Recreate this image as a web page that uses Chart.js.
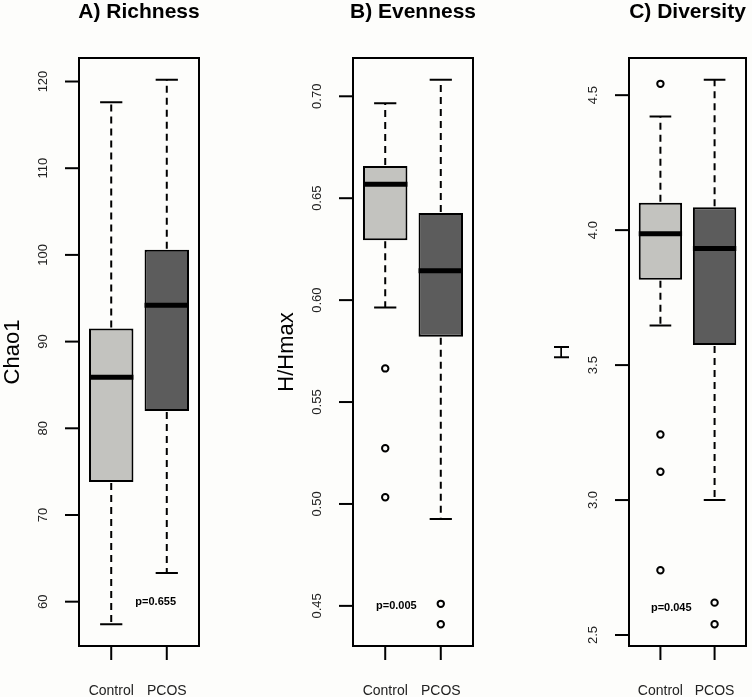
<!DOCTYPE html>
<html>
<head>
<meta charset="utf-8">
<script src="https://cdn.jsdelivr.net/npm/chart.js@4"></script>
<style>
    body { margin: 0; background: #fdfdfb; }
    #painel { position: relative; width: 752px; height: 697px; }
    canvas { position: absolute; top: 0; }
</style>
</head>
<body>
<div id="painel">
    <canvas id="graficoA" width="250" height="697" style="left:0px"></canvas>
    <canvas id="graficoB" width="250" height="697" style="left:250px"></canvas>
    <canvas id="graficoC" width="252" height="697" style="left:500px"></canvas>
</div>
<script>

// grupos (eixo x)
var grupos = ['Control', 'PCOS'];
var coresCaixa = ['#c3c3bf', '#5c5c5c'];

// A) Richness - Chao1
var riquezaMin = [57.4, 63.3];
var riquezaQ1 = [73.8, 82.0];
var riquezaMediana = [85.9, 94.2];
var riquezaQ3 = [91.5, 100.6];
var riquezaMax = [117.6, 120.2];
var riquezaOutControl = [];
var riquezaOutPCOS = [];
var riquezaTicks = [60, 70, 80, 90, 100, 110, 120];

// B) Evenness - H/Hmax
var equidadeMin = [0.5964, 0.4926];
var equidadeQ1 = [0.6294, 0.5820];
var equidadeMediana = [0.6569, 0.6144];
var equidadeQ3 = [0.6658, 0.6428];
var equidadeMax = [0.6966, 0.7081];
var equidadeOutControl = [0.5665, 0.5273, 0.5033];
var equidadeOutPCOS = [0.4510, 0.4410];
var equidadeTicks = [0.45, 0.50, 0.55, 0.60, 0.65, 0.70];

// C) Diversity - H
var diversidadeMin = [3.647, 3.000];
var diversidadeQ1 = [3.816, 3.574];
var diversidadeMediana = [3.987, 3.932];
var diversidadeQ3 = [4.101, 4.085];
var diversidadeMax = [4.421, 4.557];
var diversidadeOutControl = [4.542, 3.243, 3.105, 2.740];
var diversidadeOutPCOS = [2.620, 2.540];
var diversidadeTicks = [2.5, 3.0, 3.5, 4.0, 4.5];

var fonte = '"Liberation Sans", Arial, sans-serif';

// desenha bigodes, medianas, eixos e textos no estilo do R
const boxplotExtra = {
    id: 'boxplotExtra',
    afterDatasetsDraw(chart, args, opts) {
        const ctx = chart.ctx;
        const xs = chart.scales.x;
        const ys = chart.scales.y;
        ctx.save();
        ctx.strokeStyle = 'black';
        for (let i = 0; i < grupos.length; i++) {
            const x = xs.getPixelForValue(i + 1);
            const capL = xs.getPixelForValue(i + 1 - 0.2);
            const capR = xs.getPixelForValue(i + 1 + 0.2);
            // bigodes tracejados
            ctx.lineWidth = 2;
            ctx.setLineDash([7, 5]);
            ctx.beginPath();
            ctx.moveTo(x, ys.getPixelForValue(opts.q3[i]) - 1);
            ctx.lineTo(x, ys.getPixelForValue(opts.max[i]));
            ctx.moveTo(x, ys.getPixelForValue(opts.q1[i]) + 1);
            ctx.lineTo(x, ys.getPixelForValue(opts.min[i]));
            ctx.stroke();
            ctx.setLineDash([]);
            // hastes
            ctx.beginPath();
            ctx.moveTo(capL, ys.getPixelForValue(opts.max[i]));
            ctx.lineTo(capR, ys.getPixelForValue(opts.max[i]));
            ctx.moveTo(capL, ys.getPixelForValue(opts.min[i]));
            ctx.lineTo(capR, ys.getPixelForValue(opts.min[i]));
            ctx.stroke();
            // mediana
            ctx.lineWidth = 5;
            ctx.beginPath();
            ctx.moveTo(xs.getPixelForValue(i + 1 - 0.4), ys.getPixelForValue(opts.mediana[i]));
            ctx.lineTo(xs.getPixelForValue(i + 1 + 0.4), ys.getPixelForValue(opts.mediana[i]));
            ctx.stroke();
        }
        ctx.restore();
    },
    afterDraw(chart, args, opts) {
        const ctx = chart.ctx;
        const area = chart.chartArea;
        const xs = chart.scales.x;
        const ys = chart.scales.y;
        ctx.save();
        ctx.strokeStyle = 'black';
        ctx.lineWidth = 2;
        ctx.strokeRect(area.left, area.top, area.right - area.left, area.bottom - area.top);

        // eixo y
        ctx.fillStyle = '#222';
        ctx.font = '13px ' + fonte;
        ctx.textAlign = 'center';
        ctx.textBaseline = 'alphabetic';
        opts.ticks.forEach(function (v) {
            const y = ys.getPixelForValue(v);
            ctx.beginPath();
            ctx.moveTo(area.left - 14, y);
            ctx.lineTo(area.left, y);
            ctx.stroke();
            ctx.save();
            ctx.translate(area.left - 32, y);
            ctx.rotate(-Math.PI / 2);
            ctx.fillText(v.toFixed(opts.casas), 0, 0);
            ctx.restore();
        });

        // eixo x
        ctx.font = '14px ' + fonte;
        for (let i = 0; i < grupos.length; i++) {
            const x = xs.getPixelForValue(i + 1);
            ctx.beginPath();
            ctx.moveTo(x, area.bottom);
            ctx.lineTo(x, area.bottom + 14);
            ctx.stroke();
            ctx.fillText(grupos[i], x, area.bottom + 49);
        }

        // titulo do eixo y
        ctx.fillStyle = 'black';
        ctx.font = '22px ' + fonte;
        ctx.save();
        ctx.translate(area.left - 60, (area.top + area.bottom) / 2);
        ctx.rotate(-Math.PI / 2);
        ctx.fillText(opts.rotuloY, 0, 0);
        ctx.restore();

        // titulo
        ctx.font = 'bold 21px ' + fonte;
        ctx.fillText(opts.titulo, (area.left + area.right) / 2, 18);

        // valor p
        ctx.font = 'bold 11px ' + fonte;
        ctx.textBaseline = 'middle';
        ctx.fillText(opts.textoP, xs.getPixelForValue(opts.pX), ys.getPixelForValue(opts.pY));
        ctx.restore();
    }
};

// escala sem nada visivel (o plugin desenha os eixos)
function escalaOculta(extra) {
    return Object.assign({
        type: 'linear',
        display: true,
        offset: false,
        ticks: { display: false },
        grid: { display: false, drawTicks: false, offset: false },
        border: { display: false }
    }, extra);
}

function criarPainel(id, padding, d) {
    const todos = d.min.concat(d.max, d.outControl, d.outPCOS);
    const lo = Math.min.apply(null, todos);
    const hi = Math.max.apply(null, todos);
    const folga = (hi - lo) * 0.04;

    const caixas = [];
    for (let i = 0; i < grupos.length; i++) {
        caixas.push({ x: i + 1, y: [d.q1[i], d.q3[i]] });
    }
    const outliers = d.outControl.map(function (v) { return { x: 1, y: v }; })
        .concat(d.outPCOS.map(function (v) { return { x: 2, y: v }; }));

    return new Chart(document.getElementById(id), {
        type: 'bar',
        data: {
            datasets: [{
                type: 'bar',
                data: caixas,
                backgroundColor: coresCaixa,
                borderColor: 'black',
                borderWidth: 2,
                borderSkipped: false,
                barPercentage: 0.8,
                categoryPercentage: 1
            }, {
                type: 'scatter',
                data: outliers,
                pointRadius: 3.2,
                pointBorderWidth: 2,
                pointBorderColor: 'black',
                pointBackgroundColor: 'rgba(0,0,0,0)'
            }]
        },
        options: {
            responsive: false,
            animation: false,
            layout: { padding: padding },
            plugins: {
                legend: { display: false },
                tooltip: { enabled: false },
                boxplotExtra: {
                    min: d.min, q1: d.q1, mediana: d.mediana, q3: d.q3, max: d.max,
                    ticks: d.ticks, casas: d.casas, rotuloY: d.rotuloY, titulo: d.titulo,
                    textoP: d.textoP, pX: d.pX, pY: d.pY
                }
            },
            scales: {
                x: escalaOculta({
                    min: 0.42,
                    max: 2.58,
                    afterBuildTicks: function (scale) {
                        scale.ticks = [{ value: 1 }, { value: 2 }];
                    }
                }),
                y: escalaOculta({
                    min: lo - folga,
                    max: hi + folga
                })
            }
        },
        plugins: [boxplotExtra]
    });
}

criarPainel('graficoA', { left: 79, right: 51, top: 58, bottom: 51 }, {
    min: riquezaMin, q1: riquezaQ1, mediana: riquezaMediana, q3: riquezaQ3, max: riquezaMax,
    outControl: riquezaOutControl, outPCOS: riquezaOutPCOS,
    ticks: riquezaTicks, casas: 0, rotuloY: 'Chao1', titulo: 'A) Richness',
    textoP: 'p=0.655', pX: 1.8, pY: 60
});

criarPainel('graficoB', { left: 103, right: 27, top: 58, bottom: 51 }, {
    min: equidadeMin, q1: equidadeQ1, mediana: equidadeMediana, q3: equidadeQ3, max: equidadeMax,
    outControl: equidadeOutControl, outPCOS: equidadeOutPCOS,
    ticks: equidadeTicks, casas: 2, rotuloY: 'H/Hmax', titulo: 'B) Evenness',
    textoP: 'p=0.005', pX: 1.2, pY: 0.45
});

criarPainel('graficoC', { left: 129, right: 4, top: 58, bottom: 51 }, {
    min: diversidadeMin, q1: diversidadeQ1, mediana: diversidadeMediana, q3: diversidadeQ3, max: diversidadeMax,
    outControl: diversidadeOutControl, outPCOS: diversidadeOutPCOS,
    ticks: diversidadeTicks, casas: 1, rotuloY: 'H', titulo: 'C) Diversity',
    textoP: 'p=0.045', pX: 1.2, pY: 2.6
});

</script>
</body>
</html>
